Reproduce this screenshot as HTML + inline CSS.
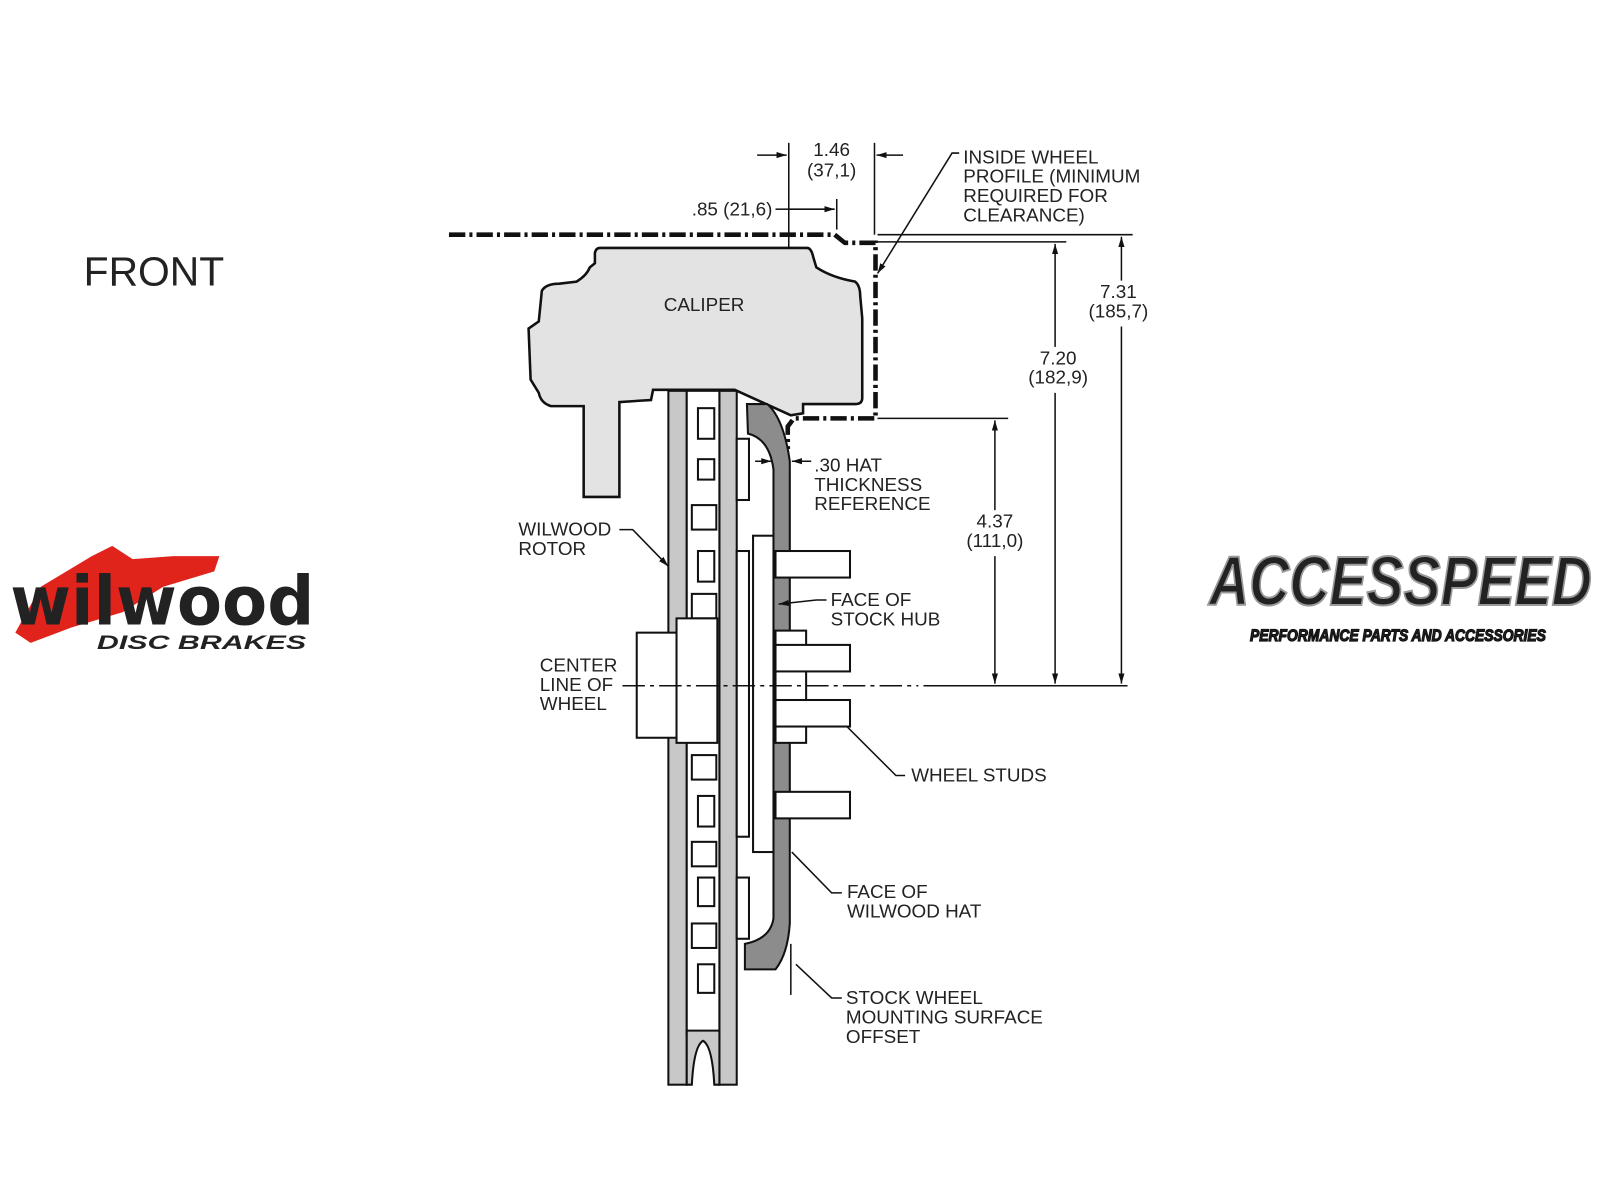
<!DOCTYPE html>
<html><head><meta charset="utf-8"><style>
html,body{margin:0;padding:0;background:#fff;}
svg{display:block}
text{font-family:"Liberation Sans",Arial,sans-serif;fill:#222}
</style></head><body>
<svg width="1600" height="1200" viewBox="0 0 1568 1176" xmlns="http://www.w3.org/2000/svg">
<defs>
<marker id="ar" markerWidth="10" markerHeight="8" refX="10" refY="4" orient="auto" markerUnits="userSpaceOnUse"><path d="M0,1 L10,4 L0,7 Z" fill="#111"/></marker>
</defs>
<rect width="1568" height="1176" fill="#fff"/>
<text x="82" y="280" font-size="40" fill="#111">FRONT</text>

<!-- wheel profile dash-dot -->
<g stroke="#111" stroke-width="4.5" fill="none" stroke-dasharray="16,4,3,4">
<path d="M440,230 L818,230 L828,238 L858,238 L858,410 L778,410 L772,418 L772,440"/>
</g>

<!-- caliper -->
<path d="M588,243 L791,243 Q795,243 797,252 L800,262 Q815,272 838,276 Q843,280 843,290 L845,312 L845,390 Q845,396 838,396 L787,396 L787,405 L775,407 L720,382 L640,382 L638,392 L607,394 L607,487 L572,487 L572,398 L540,398 Q530,395 528,385 L520,372 L518,322 L528,315 L531,285 Q535,278 548,278 L565,276 Q575,270 578,262 L583,258 L583,248 Q584,243 588,243 Z" fill="#e3e3e3" stroke="#111" stroke-width="2.5"/>
<text x="690" y="305" font-size="18.5" text-anchor="middle">CALIPER</text>

<!-- rotor -->
<rect x="655" y="383" width="18" height="680" fill="#c8c8c8" stroke="#111" stroke-width="2"/>
<rect x="705" y="383" width="17" height="680" fill="#c8c8c8" stroke="#111" stroke-width="2"/>
<rect x="673" y="383" width="32" height="630" fill="#fff" stroke="#111" stroke-width="2"/>
<path d="M673,1010 L705,1010 L705,1063 L700,1063 Q698,1025 689,1020 Q680,1025 678,1063 L673,1063 Z" fill="#c8c8c8" stroke="#111" stroke-width="2"/>
<g fill="#fff" stroke="#111" stroke-width="2">
<rect x="684" y="400" width="16" height="30"/><rect x="684" y="450" width="16" height="20"/>
<rect x="678" y="495" width="24" height="24"/><rect x="684" y="540" width="16" height="30"/>
<rect x="678" y="582" width="24" height="24"/>
<rect x="678" y="740" width="24" height="24"/><rect x="684" y="780" width="16" height="30"/>
<rect x="678" y="825" width="24" height="24"/><rect x="684" y="860" width="16" height="28"/>
<rect x="678" y="905" width="24" height="24"/><rect x="684" y="945" width="16" height="28"/>
</g>
<!-- hat -->
<path d="M732,396 L752,396 Q768,410 774,452 L774,905 Q772,935 760,950 L730,950 L730,925 Q755,920 758,900 L758,460 Q754,430 733,425 Z" fill="#8c8c8c" stroke="#111" stroke-width="2"/>
<rect x="722" y="430" width="12" height="60" fill="#fff" stroke="#111" stroke-width="2"/>
<rect x="722" y="860" width="12" height="60" fill="#fff" stroke="#111" stroke-width="2"/>
<rect x="738" y="525" width="20" height="310" fill="#fff" stroke="#111" stroke-width="2"/>
<rect x="722" y="540" width="12" height="280" fill="#fff" stroke="#111" stroke-width="2"/>
<!-- hub -->
<rect x="624" y="620" width="39" height="103" fill="#fff" stroke="#111" stroke-width="2"/>
<rect x="663" y="606" width="40" height="122" fill="#fff" stroke="#111" stroke-width="2"/>
<rect x="760" y="618" width="30" height="110" fill="#fff" stroke="#111" stroke-width="2"/>
<!-- studs -->
<g fill="#fff" stroke="#111" stroke-width="2">
<rect x="760" y="540" width="73" height="26"/>
<rect x="760" y="632" width="73" height="26"/>
<rect x="760" y="686" width="73" height="26"/>
<rect x="760" y="776" width="73" height="26"/>
</g>

<!-- center line -->
<path d="M610,672 L900,672" stroke="#111" stroke-width="1.5" stroke-dasharray="22,5,4,5"/>
<line x1="905" y1="672" x2="1105" y2="672" stroke="#111" stroke-width="1.5"/>

<!-- dimension lines -->
<g stroke="#111" stroke-width="1.5" fill="none">
<line x1="860" y1="410" x2="988" y2="410"/>
<line x1="860" y1="237" x2="1045" y2="237"/>
<line x1="860" y1="230" x2="1110" y2="230"/>
<line x1="975" y1="500" x2="975" y2="412" marker-end="url(#ar)"/>
<line x1="975" y1="545" x2="975" y2="670" marker-end="url(#ar)"/>
<line x1="1034" y1="340" x2="1034" y2="239" marker-end="url(#ar)"/>
<line x1="1034" y1="385" x2="1034" y2="670" marker-end="url(#ar)"/>
<line x1="1099" y1="275" x2="1099" y2="232" marker-end="url(#ar)"/>
<line x1="1099" y1="320" x2="1099" y2="670" marker-end="url(#ar)"/>
<line x1="773" y1="140" x2="773" y2="243"/>
<line x1="857" y1="140" x2="857" y2="230"/>
<line x1="742" y1="152" x2="771" y2="152" marker-end="url(#ar)"/>
<line x1="885" y1="152" x2="859" y2="152" marker-end="url(#ar)"/>
<line x1="760" y1="205" x2="773" y2="205"/>
<line x1="773" y1="205" x2="818" y2="205" marker-end="url(#ar)"/>
<line x1="820" y1="195" x2="820" y2="225"/>
<line x1="740" y1="452" x2="756" y2="452" marker-end="url(#ar)"/>
<line x1="795" y1="452" x2="776" y2="452" marker-end="url(#ar)"/>
<!-- leaders -->
<path d="M940,150 L933,150 L860,268" marker-end="url(#ar)"/>
<path d="M607,519 L620,519 L655,555" marker-end="url(#ar)"/>
<path d="M810,588 L800,588 L763,592" marker-end="url(#ar)"/>
<path d="M887,760 L878,760 L830,712"/>
<path d="M825,875 L815,875 L776,835"/>
<path d="M825,978 L815,978 L780,945"/>
<line x1="775" y1="925" x2="775" y2="975"/>
</g>

<g font-size="18.5">
<text x="815" y="153" text-anchor="middle">1.46</text>
<text x="815" y="173" text-anchor="middle">(37,1)</text>
<text x="757" y="211" text-anchor="end">.85 (21,6)</text>
<text x="944" y="160">INSIDE WHEEL</text>
<text x="944" y="179">PROFILE (MINIMUM</text>
<text x="944" y="198">REQUIRED FOR</text>
<text x="944" y="217">CLEARANCE)</text>
<text x="1096" y="292" text-anchor="middle">7.31</text>
<text x="1096" y="311" text-anchor="middle">(185,7)</text>
<text x="1037" y="357" text-anchor="middle">7.20</text>
<text x="1037" y="376" text-anchor="middle">(182,9)</text>
<text x="975" y="517" text-anchor="middle">4.37</text>
<text x="975" y="536" text-anchor="middle">(111,0)</text>
<text x="798" y="462">.30 HAT</text>
<text x="798" y="481">THICKNESS</text>
<text x="798" y="500">REFERENCE</text>
<text x="508" y="525">WILWOOD</text>
<text x="508" y="544">ROTOR</text>
<text x="814" y="594">FACE OF</text>
<text x="814" y="613">STOCK HUB</text>
<text x="529" y="658">CENTER</text>
<text x="529" y="677">LINE OF</text>
<text x="529" y="696">WHEEL</text>
<text x="893" y="766">WHEEL STUDS</text>
<text x="830" y="880">FACE OF</text>
<text x="830" y="899">WILWOOD HAT</text>
<text x="829" y="984">STOCK WHEEL</text>
<text x="829" y="1003">MOUNTING SURFACE</text>
<text x="829" y="1022">OFFSET</text>
</g>

<!-- wilwood logo -->
<path d="M15,620 L40,575 L90,545 L110,535 L130,548 L170,545 L215,545 L210,560 L160,575 L120,600 L70,615 L30,630 Z" fill="#e0241c"/>
<text x="10" y="612" font-size="66" font-weight="bold" fill="#111" style="font-family:'DejaVu Sans',sans-serif" textLength="298" lengthAdjust="spacingAndGlyphs">wilwood</text>
<text x="95" y="636" font-size="19" font-weight="bold" font-style="italic" fill="#111" textLength="205" lengthAdjust="spacingAndGlyphs">DISC BRAKES</text>

<!-- accesspeed logo -->
<text x="1185" y="593" font-size="68" font-weight="bold" font-style="italic" fill="#111" stroke="#999" stroke-width="2" textLength="375" lengthAdjust="spacingAndGlyphs">ACCESSPEED</text>
<text x="1225" y="628" font-size="16" font-weight="bold" font-style="italic" fill="#fff" stroke="#111" stroke-width="1.2" textLength="290" lengthAdjust="spacingAndGlyphs">PERFORMANCE PARTS AND ACCESSORIES</text>
</svg>
</body></html>
